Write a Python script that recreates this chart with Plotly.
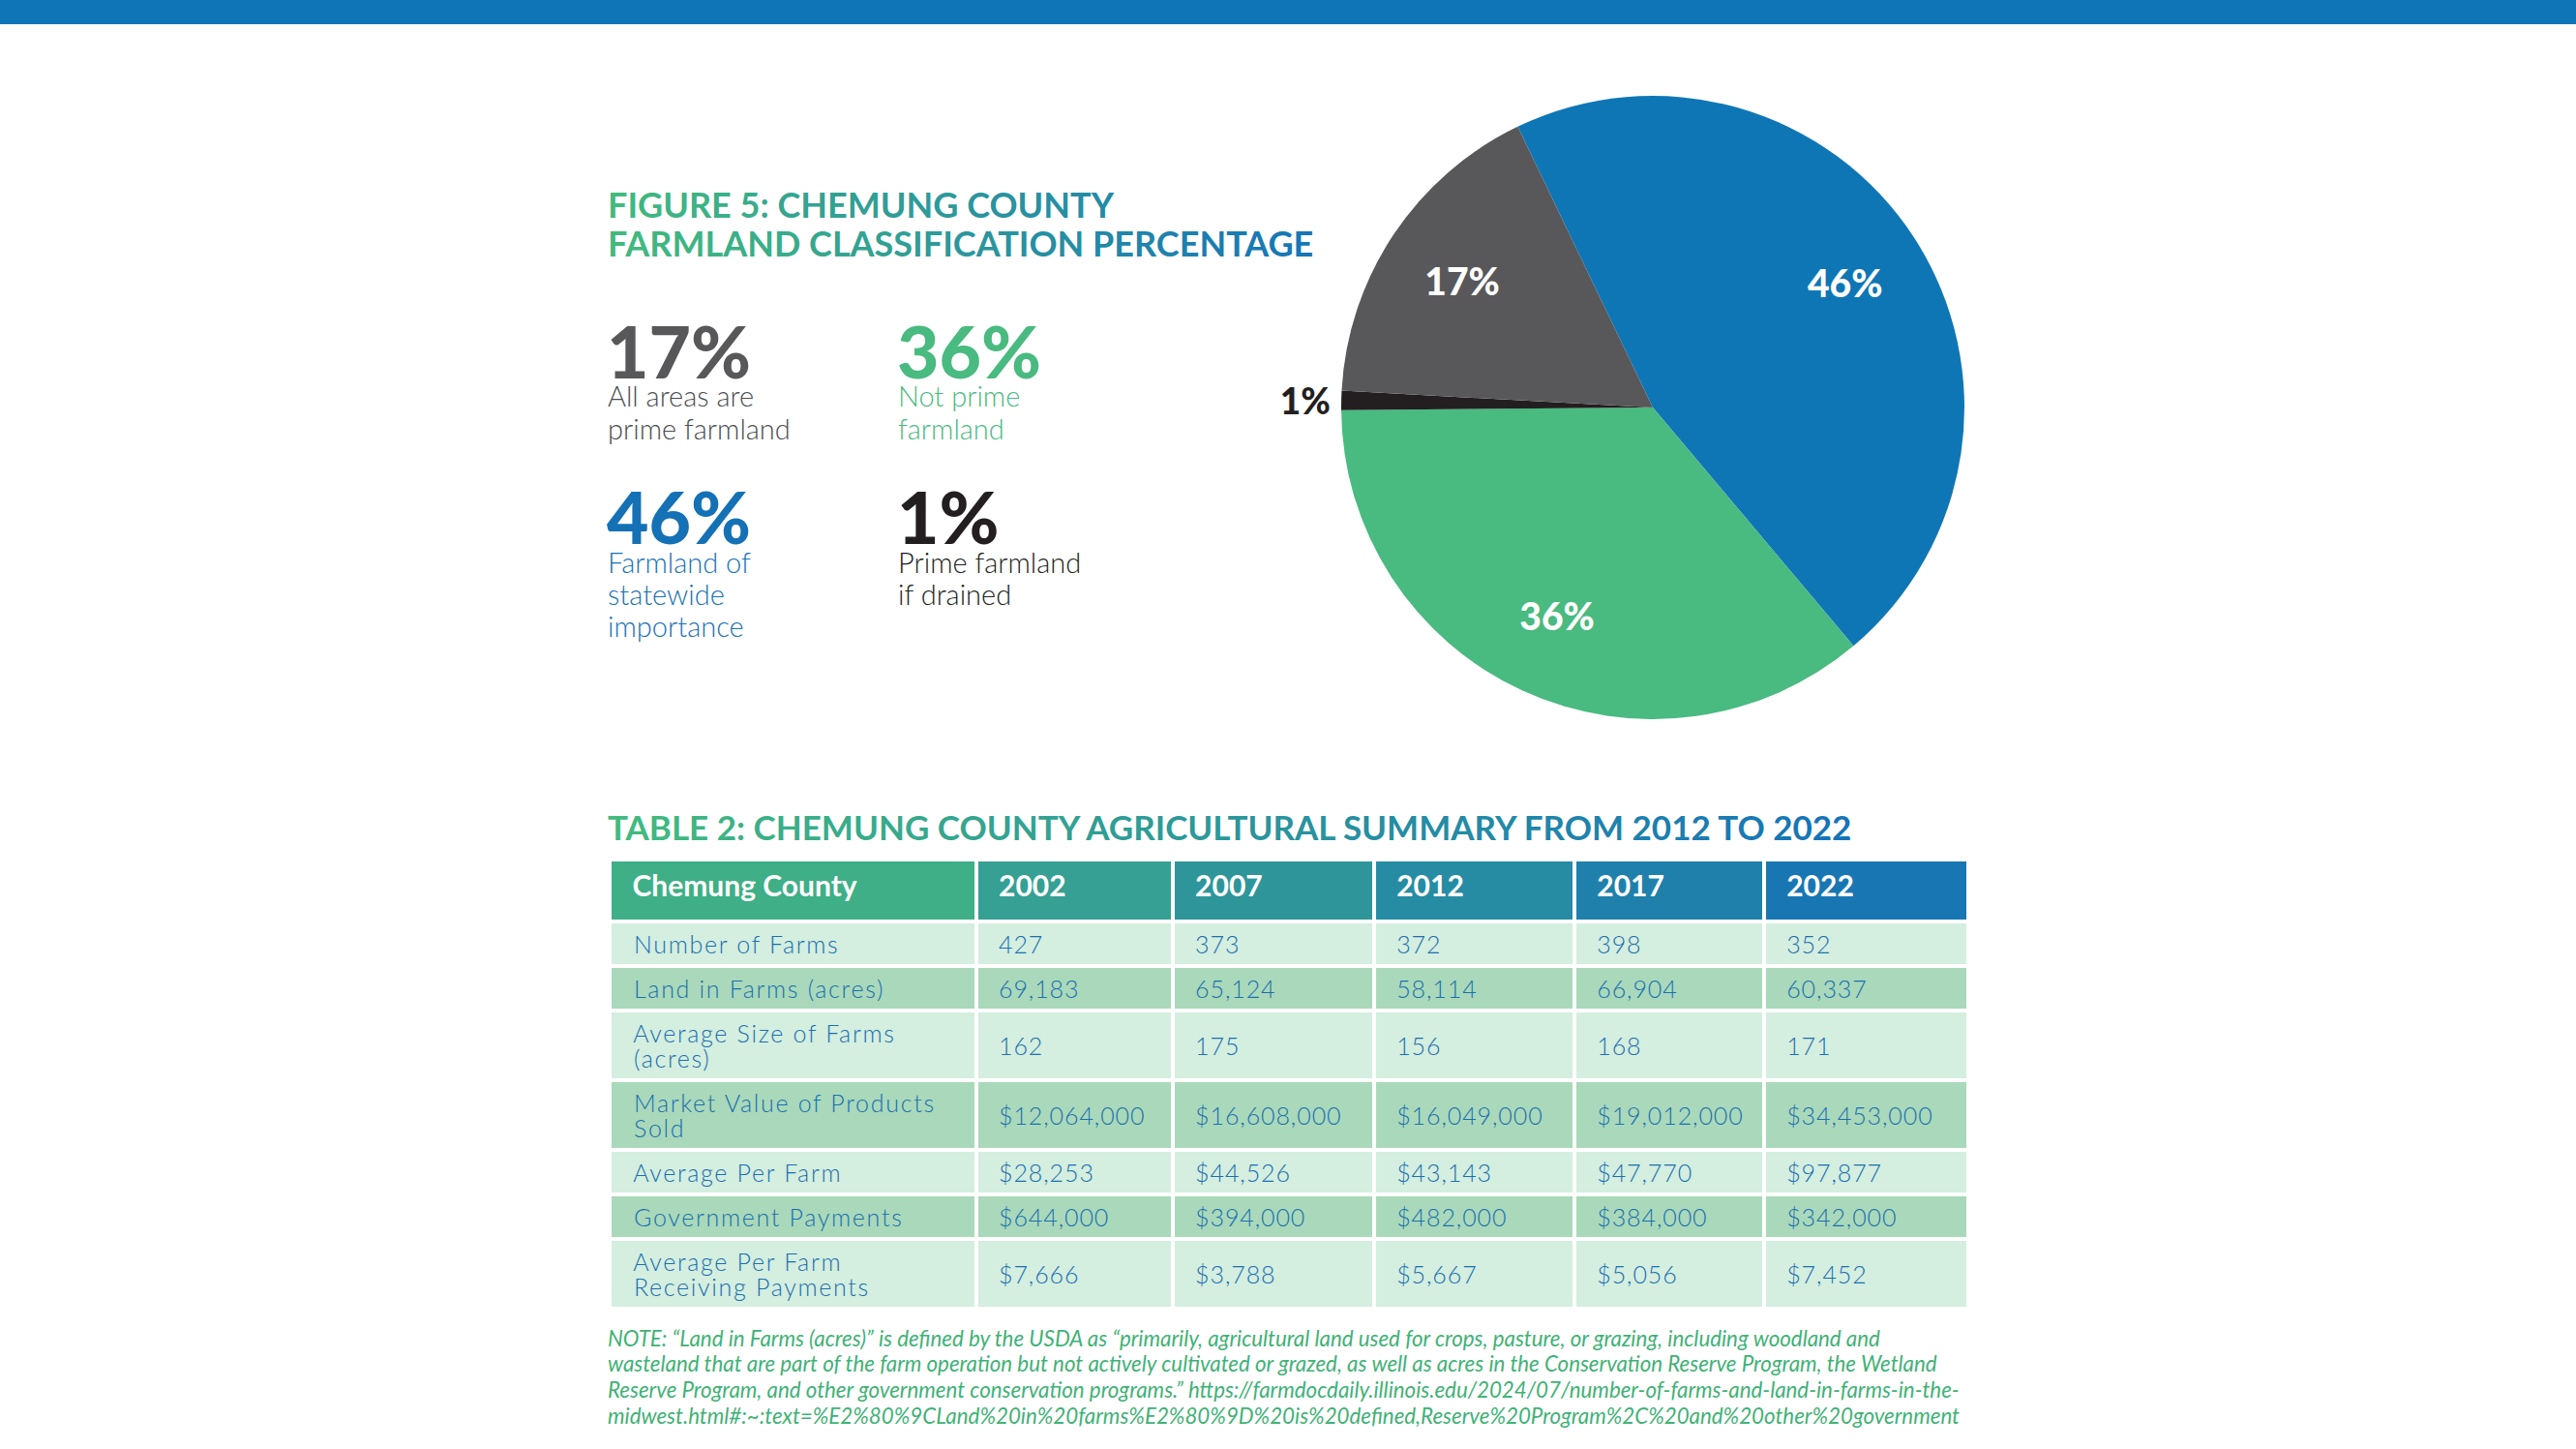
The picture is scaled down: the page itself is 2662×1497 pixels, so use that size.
import plotly.graph_objects as go

W, H = 2662, 1497

# ---------------- data ----------------
slice_labels = ["Farmland of statewide importance", "Not prime farmland",
                "Prime farmland if drained", "All areas are prime farmland"]
slice_values = [46, 36, 1, 17]
slice_desc = [["Farmland of", "statewide", "importance"], ["Not prime", "farmland"],
              ["Prime farmland", "if drained"], ["All areas are", "prime farmland"]]

fig_title = ["FIGURE 5: CHEMUNG COUNTY", "FARMLAND CLASSIFICATION PERCENTAGE"]
table_title = "TABLE 2: CHEMUNG COUNTY AGRICULTURAL SUMMARY FROM 2012 TO 2022"

header_labels = ["Chemung County", "2002", "2007", "2012", "2017", "2022"]
row_labels = ["Number of Farms", "Land in Farms (acres)", "Average Size of Farms<br>(acres)",
              "Market Value of Products<br>Sold", "Average Per Farm", "Government Payments",
              "Average Per Farm<br>Receiving Payments"]
v2002 = ["427", "69,183", "162", "$12,064,000", "$28,253", "$644,000", "$7,666"]
v2007 = ["373", "65,124", "175", "$16,608,000", "$44,526", "$394,000", "$3,788"]
v2012 = ["372", "58,114", "156", "$16,049,000", "$43,143", "$482,000", "$5,667"]
v2017 = ["398", "66,904", "168", "$19,012,000", "$47,770", "$384,000", "$5,056"]
v2022 = ["352", "60,337", "171", "$34,453,000", "$97,877", "$342,000", "$7,452"]

note_lines = [
    "NOTE: \u201cLand in Farms (acres)\u201d is defined by the USDA as \u201cprimarily, agricultural land used for crops, pasture, or grazing, including woodland and",
    "wasteland that are part of the farm operation but not actively cultivated or grazed, as well as acres in the Conservation Reserve Program, the Wetland",
    "Reserve Program, and other government conservation programs.\u201d https://farmdocdaily.illinois.edu/2024/07/number-of-farms-and-land-in-farms-in-the-",
    "midwest.html#:~:text=%E2%80%9CLand%20in%20farms%E2%80%9D%20is%20defined,Reserve%20Program%2C%20and%20other%20government",
]

# ---------------- styles ----------------
BLUE = "#0F76B6"
GREEN = "#49BA80"
BLACK = "#231F20"
GREY = "#58585A"
slice_colors = [BLUE, GREEN, BLACK, GREY]
num_colors = ["#1471B6", "#49BA80", "#231F20", "#58585A"]
desc_colors = ["#1A72B5", "#49BA80", "#231F20", "#4D4D4F"]
# stat block anchor (left x, number centre y) in pixels, per slice
stat_pos = [(630, 533), (930, 362), (930, 533), (630, 362)]
NB = "\u00a0"


def px(x):
    return x / W


def py(y):
    return 1 - y / H


def hex2rgb(h):
    h = h.lstrip("#")
    return tuple(int(h[i:i + 2], 16) for i in (0, 2, 4))


def lerp(c0, c1, t):
    a, b = hex2rgb(c0), hex2rgb(c1)
    return "#%02x%02x%02x" % tuple(round(a[i] + (b[i] - a[i]) * t) for i in range(3))


def gradient_line(line, c0, c1, n):
    parts = []
    for i, ch in enumerate(line):
        col = lerp(c0, c1, i / (n - 1))
        parts.append(f'<span style="color:{col}">{ch}</span>')
    return "".join(parts)


fig = go.Figure()

pie_domain = dict(x=[px(1386), px(2030)], y=[py(743), py(99)])
# pie (colours)
fig.add_trace(go.Pie(
    labels=slice_labels,
    values=slice_values,
    marker=dict(colors=slice_colors, line=dict(width=0)),
    sort=False,
    direction="clockwise",
    rotation=-25.7,
    textinfo="none",
    hoverinfo="label+percent",
    showlegend=False,
    domain=pie_domain,
))
# same slices as a transparent ring that carries the labels
fig.add_trace(go.Pie(
    labels=slice_labels,
    values=slice_values,
    hole=0.47,
    marker=dict(colors=["rgba(0,0,0,0)"] * len(slice_values), line=dict(width=0)),
    sort=False,
    direction="clockwise",
    rotation=-25.7,
    texttemplate="%{value}%",
    textposition=["inside", "inside", "outside", "inside"],
    insidetextorientation="horizontal",
    textfont=dict(family="Lato", size=39, color=["white", "white", BLACK, "white"], weight=900),
    outsidetextfont=dict(family="Lato", size=37, color=BLACK, weight=900),
    hoverinfo="skip",
    showlegend=False,
    domain=pie_domain,
))

# table
n_rows = len(row_labels)
light, dark = "#D4EEDF", "#A9D9BA"
row_fill = [light if i % 2 == 0 else dark for i in range(n_rows)]
hdr_cols = []
for c in [816, 1107, 1313, 1521, 1723, 1928]:
    hdr_cols.append(lerp("#46B880", "#1472B7", (c - 630) / 1402))
pad = NB * 2
FS = 25
LABEL_STYLE = f"font-size:{FS}px;letter-spacing:1.7px"
VALUE_STYLE = f"font-size:{FS}px;letter-spacing:0.9px"


def sized(text, style):
    return f'<span style="{style}">{pad}{text}</span>'


two = ["<br>" in r for r in row_labels]
# small base size gives tight line spacing; spans restore glyph size.
# every cell carries a <br> so plotly does not re-wrap the markup.
label_text = []
for i, r in enumerate(row_labels):
    if two[i]:
        label_text.append("<br>".join(sized(ln, LABEL_STYLE) for ln in r.split("<br>")))
    else:
        label_text.append(sized(r, LABEL_STYLE) + "<br>")
cols = [label_text]
for col in [v2002, v2007, v2012, v2017, v2022]:
    cells_col = []
    for i, v in enumerate(col):
        if two[i]:
            # blank first line lowers the value to the middle of a two-line row
            cells_col.append(f'<span style="font-size:{FS}px">{NB}</span><br>' + sized(v, VALUE_STYLE))
        else:
            cells_col.append(sized(v, VALUE_STYLE) + "<br>")
    cols.append(cells_col)

fig.add_trace(go.Table(
    domain=dict(x=[px(630), px(2034)], y=[py(1368), py(888)]),
    columnwidth=[373, 200, 205, 204, 193, 208],
    header=dict(
        values=[pad + "<b>" + h + "</b>" for h in header_labels],
        fill=dict(color=hdr_cols),
        line=dict(color="white", width=4),
        align="left",
        height=64,
        font=dict(family="Lato", size=30, color="white"),
    ),
    cells=dict(
        values=cols,
        fill=dict(color=[row_fill] * len(cols)),
        line=dict(color="white", width=4),
        align="left",
        height=46,
        font=dict(family="Lato", size=[20, 10, 10, 10, 10, 10], color="#1B6FB0", weight=300),
    ),
))

# top bar
fig.add_shape(type="rect", xref="paper", yref="paper", x0=0, x1=1, y0=py(25), y1=1,
              fillcolor="#0F75B6", line=dict(width=0), layer="above")

annotations = []
# figure title, one line per annotation
nmax = max(len(l) for l in fig_title)
for k, line in enumerate(fig_title):
    annotations.append(dict(
        text=gradient_line(line, "#42BA7F", "#1676B7", nmax),
        x=px(626), y=py(211 + 40 * k), xref="paper", yref="paper", xanchor="left", yanchor="middle",
        showarrow=False, font=dict(family="Lato", size=36, weight="bold"),
    ))
# stat blocks
for i in range(len(slice_values)):
    x0, yc = stat_pos[i]
    annotations.append(dict(
        text=f"{slice_values[i]}%", x=px(x0 - 5), y=py(yc), xref="paper", yref="paper",
        xanchor="left", yanchor="middle", showarrow=False,
        font=dict(family="Lato", size=75, color=num_colors[i], weight=900),
    ))
    for k, line in enumerate(slice_desc[i]):
        annotations.append(dict(
            text=line, x=px(x0 - 4), y=py(yc + 47 + 33.5 * k), xref="paper", yref="paper",
            xanchor="left", yanchor="middle", showarrow=False,
            font=dict(family="Lato", size=29, color=desc_colors[i], weight=300),
        ))
# table title
annotations.append(dict(
    text=gradient_line(table_title, "#42BA7F", "#1474B8", len(table_title)),
    x=px(626), y=py(854), xref="paper", yref="paper", xanchor="left", yanchor="middle",
    showarrow=False, font=dict(family="Lato", size=35, weight="bold"),
))
# note, one line per annotation
for k, line in enumerate(note_lines):
    annotations.append(dict(
        text="<i>" + line + "</i>",
        x=px(626), y=py(1382 + 26.7 * k), xref="paper", yref="paper", xanchor="left", yanchor="middle",
        showarrow=False, font=dict(family="Lato", size=22.3, color="#3FB276"),
    ))

fig.update_layout(
    width=W, height=H,
    margin=dict(l=0, r=0, t=0, b=0),
    paper_bgcolor="white", plot_bgcolor="white",
    annotations=annotations,
)

fig.write_html("out.html", config={"displayModeBar": False},
               post_script="document.body.style.margin='0';")
